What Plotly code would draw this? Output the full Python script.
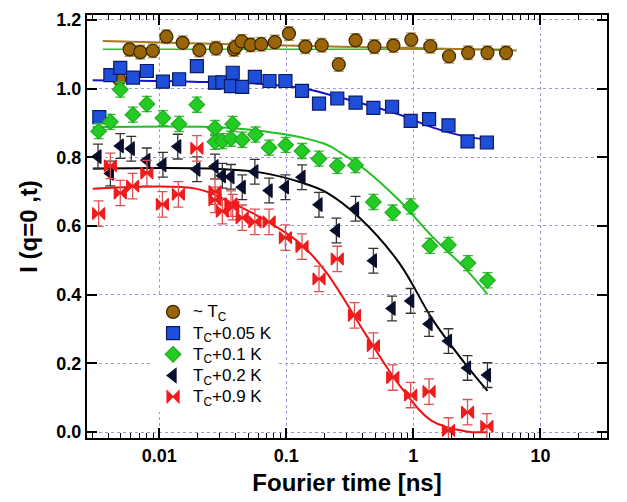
import plotly.graph_objects as go

# ---------------- data ----------------
labels = ["~ T<sub>C</sub>", "T<sub>C</sub>+0.05 K", "T<sub>C</sub>+0.1 K",
          "T<sub>C</sub>+0.2 K", "T<sub>C</sub>+0.9 K"]

t_tc = [0.00485, 0.00585, 0.0071, 0.0089, 0.0114, 0.0153, 0.0207, 0.028, 0.0388, 0.040,
        0.0446, 0.0524, 0.0635, 0.0813, 0.105, 0.1415, 0.19, 0.259, 0.351, 0.494, 0.697,
        0.964, 1.36, 1.91, 2.70, 3.83, 5.36]
i_tc = [1.027, 1.114, 1.106, 1.110, 1.151, 1.133, 1.112, 1.117, 1.114, 1.121,
        1.137, 1.127, 1.129, 1.135, 1.160, 1.122, 1.126, 1.070, 1.140, 1.122, 1.125,
        1.142, 1.123, 1.094, 1.104, 1.104, 1.104]
err_tc = 0.02

t_005 = [0.00338, 0.00413, 0.00494, 0.00622, 0.0080, 0.0107, 0.01435, 0.0198, 0.0275, 0.0314,
         0.0367, 0.0379, 0.045, 0.0566, 0.0738, 0.0985, 0.133, 0.181, 0.252, 0.351, 0.485,
         0.68, 0.953, 1.33, 1.89, 2.67, 3.79]
i_005 = [0.917, 1.039, 1.060, 1.032, 1.051, 1.020, 1.027, 1.065, 1.017, 1.018,
         1.007, 1.046, 1.005, 1.034, 1.022, 1.022, 0.993, 0.956, 0.971, 0.959, 0.944,
         0.947, 0.906, 0.911, 0.893, 0.846, 0.843]

t_01 = [0.00334, 0.00413, 0.00494, 0.00622, 0.0080, 0.0107, 0.01435, 0.0198, 0.0275, 0.0275,
        0.0314, 0.0367, 0.0379, 0.045, 0.0573, 0.0733, 0.099, 0.133, 0.181, 0.252, 0.351,
        0.485, 0.689, 0.953, 1.35, 1.89, 2.69, 3.83]
i_01 = [0.876, 0.903, 0.997, 0.924, 0.955, 0.914, 0.897, 0.953, 0.885, 0.845,
        0.847, 0.854, 0.897, 0.851, 0.866, 0.828, 0.836, 0.818, 0.796, 0.775, 0.777,
        0.670, 0.639, 0.657, 0.542, 0.545, 0.492, 0.442]
err_01 = 0.022

t_02 = [0.0033, 0.00413, 0.00494, 0.00603, 0.0080, 0.0107, 0.014, 0.0198, 0.0275, 0.0314,
        0.0367, 0.045, 0.0566, 0.0733, 0.0985, 0.133, 0.181, 0.248, 0.351, 0.485, 0.68,
        0.953, 1.33, 1.89, 2.67, 3.83]
i_02 = [0.802, 0.753, 0.833, 0.825, 0.791, 0.778, 0.831, 0.765, 0.773, 0.746,
        0.743, 0.713, 0.758, 0.703, 0.713, 0.742, 0.662, 0.587, 0.650, 0.499, 0.360,
        0.382, 0.315, 0.265, 0.187, 0.166]
err_02 = 0.036

t_09 = [0.00334, 0.00413, 0.00494, 0.00618, 0.0080, 0.0106, 0.01416, 0.0198, 0.0275, 0.0275,
        0.0314, 0.0367, 0.0379, 0.045, 0.0566, 0.0733, 0.0985, 0.133, 0.181, 0.252, 0.344,
        0.485, 0.689, 0.953, 1.33, 1.89, 2.67, 3.79]
i_09 = [0.636, 0.775, 0.696, 0.716, 0.754, 0.663, 0.692, 0.826, 0.700, 0.676,
        0.643, 0.665, 0.655, 0.624, 0.612, 0.612, 0.566, 0.540, 0.446, 0.504, 0.340,
        0.252, 0.159, 0.108, 0.118, 0.005, 0.058, 0.017]
err_09 = 0.037

# fit curves
fit_tc_t = [0.0036, 0.012, 0.1, 1.0, 6.5]
fit_tc_i = [1.138, 1.133, 1.125, 1.118, 1.111]
flat_t = [0.0036, 6.0]
flat_i = [1.114, 1.114]

fit_005_t = [0.003, 0.0185, 0.062, 0.128, 0.232, 0.428, 0.776, 1.41, 2.61, 3.83]
fit_005_i = [1.024, 1.020, 1.014, 1.002, 0.980, 0.953, 0.924, 0.887, 0.860, 0.852]

fit_01_t = [0.003, 0.0221, 0.0431, 0.1, 0.2066, 0.263, 0.428, 0.776, 1.41, 2.61, 3.83]
fit_01_i = [0.888, 0.889, 0.883, 0.866, 0.837, 0.815, 0.761, 0.674, 0.569, 0.473, 0.401]

fit_02_t = [0.003, 0.0251, 0.0619, 0.128, 0.2066, 0.377, 0.776, 1.41, 2.61, 3.83]
fit_02_i = [0.767, 0.767, 0.756, 0.728, 0.698, 0.624, 0.492, 0.329, 0.195, 0.120]

fit_09_t = [0.003, 0.0198, 0.034, 0.0619, 0.128, 0.2066, 0.428, 0.776, 1.41, 2.61, 3.83]
fit_09_i = [0.708, 0.708, 0.674, 0.626, 0.550, 0.465, 0.281, 0.137, 0.032, 0.002, 0.0]

x_tickvals = [0.01, 0.1, 1, 10]
x_ticktext = ["0.01", "0.1", "1", "10"]
y_tickvals = [0.0, 0.2, 0.4, 0.6, 0.8, 1.0, 1.2]

# ---------------- figure ----------------
fig = go.Figure()

def line(x, y, color, width=2):
    fig.add_trace(go.Scatter(x=x, y=y, mode="lines", line=dict(color=color, width=width, shape="spline"),
                             showlegend=False, hoverinfo="skip"))

line(flat_t, flat_i, "#33bb33", 1.5)
line(fit_tc_t, fit_tc_i, "#a8761e", 2)
line(fit_005_t, fit_005_i, "#1414d0", 2)
line(fit_01_t, fit_01_i, "#22c022", 2)
line(fit_02_t, fit_02_i, "#000000", 2)
line(fit_09_t, fit_09_i, "#ee1111", 2)

def pts(x, y, name, symbol, color, outline, size, err=None, errcolor=None):
    kw = {}
    if err is not None:
        kw["error_y"] = dict(type="constant", value=err, color=errcolor, thickness=1.3, width=5)
    fig.add_trace(go.Scatter(x=x, y=y, mode="markers",
                             name='<span style="font-size:17px">' + name + '</span>',
                             marker=dict(symbol=symbol, color=color, size=size,
                                         line=dict(color=outline, width=1.2)), **kw))

pts(t_tc, i_tc, labels[0], "circle", "#9a6508", "#3a2600", 13, err_tc, "#b8975a")
pts(t_005, i_005, labels[1], "square", "#1f4fd8", "#0a1a66", 13)
pts(t_01, i_01, labels[2], "diamond", "#22cc22", "#22aa22", 12, err_01, "#33c033")
pts(t_02, i_02, labels[3], "triangle-left", "#0a0f2e", "#0a0f2e", 12, err_02, "#333333")
pts(t_09, i_09, labels[4], "bowtie", "#ee1c1c", "#ee1c1c", 12, err_09, "#e05050")

minor_vals = [m * d for d in [0.001, 0.01, 0.1, 1, 10] for m in range(2, 10)]

axis_common = dict(showline=True, linecolor="black", linewidth=2, mirror="allticks",
                   ticks="inside", ticklen=10, tickwidth=1.5, tickcolor="black",
                   showgrid=True, gridcolor="#9a9ae0", griddash="dot", gridwidth=1,
                   zeroline=False,
                   tickfont=dict(family="Liberation Sans, Arial", size=18, color="black", weight="bold"))

fig.update_layout(
    width=627, height=502,
    margin=dict(l=87, r=20, t=10, b=64),
    paper_bgcolor="white", plot_bgcolor="white",
    font=dict(family="Liberation Sans, Arial", color="black"),
    xaxis=dict(type="log", range=[-2.568, 1.524], tickmode="array",
               tickvals=x_tickvals, ticktext=x_ticktext,
               minor=dict(tickmode="array", tickvals=minor_vals, ticks="inside", ticklen=5,
                          tickwidth=1.2, tickcolor="black", showgrid=False),
               title=dict(text="Fourier time [ns]", standoff=10,
                          font=dict(family="Liberation Sans, Arial", size=24, weight="bold")),
               **axis_common),
    yaxis=dict(range=[-0.017, 1.214], tickmode="array", tickvals=y_tickvals, tickformat=".1f",
               title=dict(text="I (q=0 ,t)", standoff=12,
                          font=dict(family="Liberation Sans, Arial", size=24, weight="bold")),
               **axis_common),
    legend=dict(x=0.127, y=0.335, xanchor="left", yanchor="top", bgcolor="white",
                borderwidth=0, font=dict(family="Liberation Sans, Arial", size=14, color="black"),
                tracegroupgap=0),
    showlegend=True,
)

fig.write_html("out.html")
